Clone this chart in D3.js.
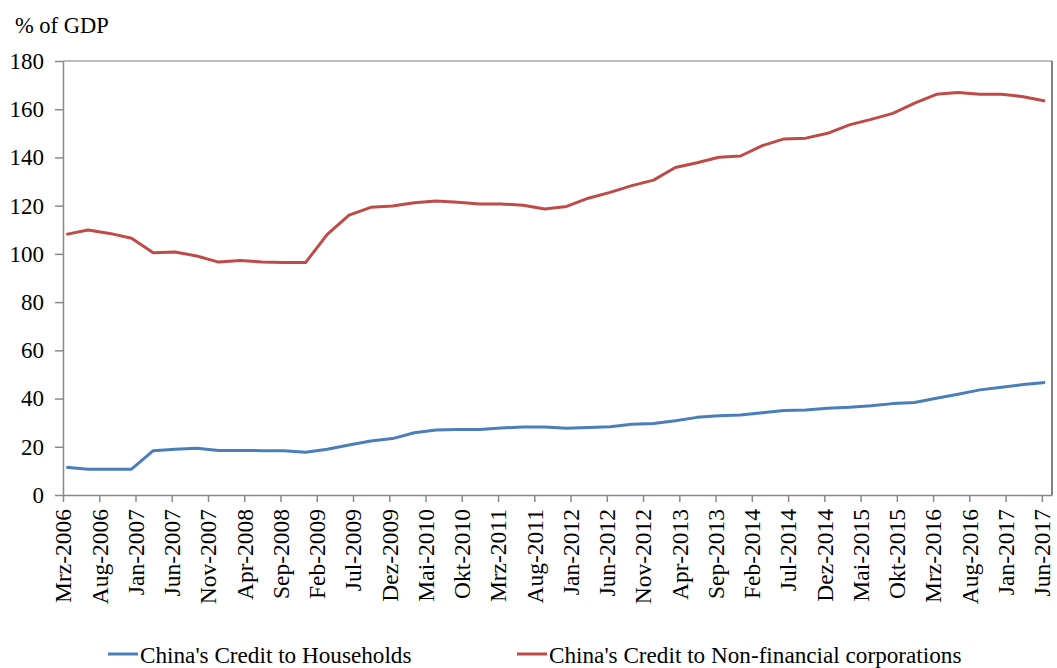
<!DOCTYPE html>
<meta charset="utf-8">
<style>
  body { margin: 0; background: #fff; }
  svg text { font-family: "Liberation Serif", "Times New Roman", serif; fill: #000; }
</style>
<body>
<div id="chart"></div>
<script src="https://d3js.org/d3.v7.min.js"></script>
<script>

// quarterly observations (year-month)
var quarters = [
  "2006-03","2006-06","2006-09","2006-12","2007-03","2007-06","2007-09","2007-12",
  "2008-03","2008-06","2008-09","2008-12","2009-03","2009-06","2009-09","2009-12",
  "2010-03","2010-06","2010-09","2010-12","2011-03","2011-06","2011-09","2011-12",
  "2012-03","2012-06","2012-09","2012-12","2013-03","2013-06","2013-09","2013-12",
  "2014-03","2014-06","2014-09","2014-12","2015-03","2015-06","2015-09","2015-12",
  "2016-03","2016-06","2016-09","2016-12","2017-03","2017-06"];

var households = [
  11.5, 10.7, 10.7, 10.7, 18.4, 19.0, 19.4, 18.5, 18.5, 18.4, 18.4, 17.7,
  19.0, 20.7, 22.4, 23.4, 25.8, 27.0, 27.2, 27.2, 27.8, 28.2, 28.2, 27.7,
  28.0, 28.3, 29.3, 29.7, 30.8, 32.2, 32.9, 33.2, 34.1, 35.0, 35.3, 36.0,
  36.4, 37.0, 37.9, 38.4, 40.1, 41.8, 43.6, 44.7, 45.8, 46.7];

var corporations = [
  108.1, 109.9, 108.5, 106.5, 100.5, 100.8, 99.1, 96.6, 97.3, 96.6, 96.4, 96.4,
  108.1, 116.1, 119.3, 119.9, 121.2, 121.9, 121.4, 120.7, 120.7, 120.2, 118.6, 119.7,
  123.1, 125.5, 128.3, 130.6, 135.8, 137.8, 140.1, 140.6, 144.9, 147.7, 148.0, 150.0,
  153.5, 155.8, 158.3, 162.5, 166.2, 166.9, 166.2, 166.2, 165.2, 163.4];

// x tick labels, every 5 months from Mrz-2006
var tickLabels = [
  "Mrz-2006","Aug-2006","Jan-2007","Jun-2007","Nov-2007","Apr-2008","Sep-2008",
  "Feb-2009","Jul-2009","Dez-2009","Mai-2010","Okt-2010","Mrz-2011","Aug-2011",
  "Jan-2012","Jun-2012","Nov-2012","Apr-2013","Sep-2013","Feb-2014","Jul-2014",
  "Dez-2014","Mai-2015","Okt-2015","Mrz-2016","Aug-2016","Jan-2017","Jun-2017"];

var yTicks = [0, 20, 40, 60, 80, 100, 120, 140, 160, 180];

var seriesNames = ["China's Credit to Households", "China's Credit to Non-financial corporations"];
var seriesColors = ["#4a7ebb", "#be4b48"];

var W = 1057, H = 668;
var plotLeft = 63, plotRight = 1052, plotTop = 61, plotBottom = 495;
var fontSize = "23px";

// months since Mrz-2006
function monthIndex(s) {
  var p = s.split("-");
  return (+p[0] - 2006) * 12 + (+p[1] - 3) + 0.45;
}

var x = d3.scaleLinear().domain([0, 136.4]).range([plotLeft, plotRight]);
var y = d3.scaleLinear().domain([0, 180]).range([plotBottom, plotTop]);

var svg = d3.select("#chart").append("svg")
    .attr("width", W)
    .attr("height", H);

// plot frame (top + right)
svg.append("line")
    .attr("x1", plotLeft).attr("x2", plotRight).attr("y1", plotTop).attr("y2", plotTop)
    .attr("stroke", "#a6a6a6").attr("stroke-width", 1.5);
svg.append("line")
    .attr("x1", plotRight).attr("x2", plotRight).attr("y1", plotTop).attr("y2", plotBottom)
    .attr("stroke", "#595959").attr("stroke-width", 1.5);

// y axis
var yAxis = svg.append("g")
    .attr("transform", "translate(" + plotLeft + ",0)")
    .call(d3.axisLeft(y).tickValues(yTicks).tickSize(8).tickPadding(11).tickSizeOuter(0));
yAxis.select(".domain").attr("stroke", "#898989").attr("stroke-width", 1.5);
yAxis.selectAll(".tick line").attr("stroke", "#898989").attr("stroke-width", 1.5);
yAxis.selectAll("text")
    .style("font-family", "Liberation Serif")
    .style("font-size", fontSize)
    .attr("fill", "#000");

// x axis
var xAxis = svg.append("g")
    .attr("transform", "translate(0," + plotBottom + ")")
    .call(d3.axisBottom(x)
      .tickValues(tickLabels.map(function(d, i) { return i * 5; }))
      .tickFormat(function(d) { return tickLabels[d / 5]; })
      .tickSize(7)
      .tickSizeOuter(0));
xAxis.select(".domain").attr("stroke", "#898989").attr("stroke-width", 1.5);
xAxis.selectAll(".tick line").attr("stroke", "#898989").attr("stroke-width", 1.5);
xAxis.selectAll("text")
    .attr("transform", "rotate(-90)")
    .attr("x", -14)
    .attr("y", 0)
    .attr("dy", "0.33em")
    .style("text-anchor", "end")
    .style("font-family", "Liberation Serif")
    .style("font-size", "23.5px")
    .attr("fill", "#000");

// lines
var line = d3.line()
    .x(function(d) { return x(d.m); })
    .y(function(d) { return y(d.v); });

[households, corporations].forEach(function(vals, k) {
  var pts = vals.map(function(v, i) { return { m: monthIndex(quarters[i]), v: v }; });
  svg.append("path")
      .datum(pts)
      .attr("fill", "none")
      .attr("stroke", seriesColors[k])
      .attr("stroke-width", 3)
      .attr("stroke-linejoin", "round")
      .attr("d", line);
});

// axis title
svg.append("text")
    .attr("x", 15)
    .attr("y", 33)
    .style("font-size", "22.5px")
    .text("% of GDP");

// legend
var legendX = [108, 517];
seriesNames.forEach(function(name, k) {
  svg.append("line")
      .attr("x1", legendX[k]).attr("x2", legendX[k] + 30)
      .attr("y1", 654).attr("y2", 654)
      .attr("stroke", seriesColors[k]).attr("stroke-width", 3);
  svg.append("text")
      .attr("x", legendX[k] + 32)
      .attr("y", 663)
      .style("font-size", "23.2px")
      .text(name);
});

</script>
</body>
